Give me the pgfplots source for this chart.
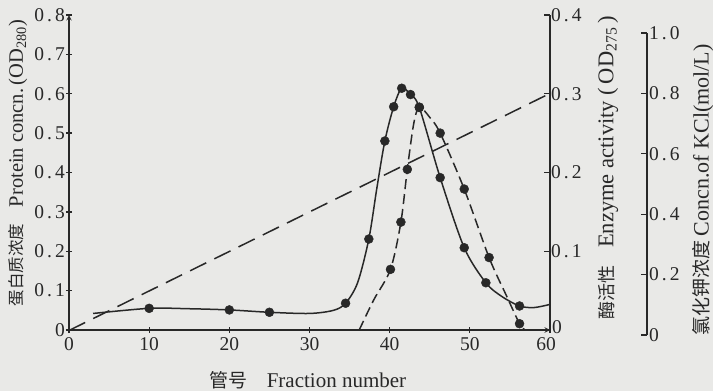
\documentclass[border=0pt]{standalone}
\usepackage{fontspec}
\setmainfont{Liberation Serif}
\newfontfamily\cjk{Noto Sans CJK SC}
\usepackage{pgfplots}
\pgfplotsset{compat=1.18}
\definecolor{ink}{RGB}{40,40,40}
\definecolor{bg}{RGB}{233,233,231}
\newcommand\tk[1]{0\kern3bp.\kern3bp#1}
\newcommand\lat[1]{\rmfamily\fontsize{#1}{#1}\selectfont}
\newcommand\cj[1]{\cjk\fontsize{#1}{#1}\selectfont}
\pgfplotsset{
  common/.style={scale only axis, clip=false,
    /pgf/number format/assume math mode=true,
    axis line style={ink, line width=1.4bp, -},
    tick align=inside, major tick length=6bp,
    tick style={ink, line width=1.3bp},
    ticklabel style={font=\rmfamily\fontsize{19.5bp}{21bp}\selectfont, text=ink},
  },
  solidline/.style={ink, line width=1.5bp, smooth, tension=0.5, no marks},
  dots/.style={only marks, mark=*, mark size=4.5bp, mark options={fill=ink, draw=ink}},
}
\begin{document}
\begin{tikzpicture}
\path[use as bounding box] (-69bp,-61bp) rectangle (644bp,330bp);
\fill[bg] (-69bp,-61bp) rectangle (644bp,330bp);
% main axis (protein)
\begin{axis}[common, at={(0,0)}, anchor=south west, width=481bp, height=315bp,
  xmin=0, xmax=60, ymin=0, ymax=0.8,
  axis x line=bottom, axis y line=left,
  xtick={0,10,20,30,40,50,60}, xticklabels={\rmfamily 0,\rmfamily 10,\rmfamily 20,\rmfamily 30,\rmfamily 40,\rmfamily 50,\rmfamily\hspace*{-8bp}60},
  ytick={0,0.1,0.2,0.3,0.4,0.5,0.6,0.7,0.8},
  yticklabels={\rmfamily 0,\rmfamily\tk1,\rmfamily\tk2,\rmfamily\tk3,\rmfamily\tk4,\rmfamily\tk5,\rmfamily\tk6,\rmfamily\tk7,\rmfamily\tk8},
  yticklabel style={inner xsep=1bp},
  xticklabel style={inner ysep=4bp},
]
\addplot[solidline] coordinates {(3,0.042) (10,0.055) (15,0.054) (20,0.051) (25,0.045) (30,0.042) (33,0.05) (34.5,0.068) (36,0.12) (37.4,0.231) (38.4,0.36) (39.4,0.48) (40.5,0.567) (41.5,0.614) (42.6,0.598) (43.7,0.565) (46.3,0.387) (49.3,0.209) (52.0,0.12) (54,0.085) (56.2,0.061) (58,0.057) (60,0.065)};
\addplot[dots] coordinates {(10,0.055) (20,0.051) (25,0.045) (34.5,0.068) (37.4,0.231) (39.4,0.48) (40.5,0.567) (41.5,0.614) (42.6,0.598) (43.7,0.565) (46.3,0.387) (49.3,0.209) (52.0,0.12) (56.2,0.061)};
\end{axis}
% enzyme axis
\begin{axis}[common, at={(0,0)}, anchor=south west, width=481bp, height=315bp,
  xmin=0, xmax=60, ymin=0, ymax=0.4,
  axis x line=none, axis y line*=right,
  ytick={0,0.1,0.2,0.3,0.4},
  yticklabels={\rmfamily\kern1bp\raisebox{6bp}{0},\rmfamily\tk1,\rmfamily\tk2,\rmfamily\tk3,\rmfamily\tk4},
  yticklabel style={inner xsep=1bp},
]
\addplot[ink, line width=1.5bp, smooth, tension=0.5, no marks, dash pattern=on 10bp off 5bp] coordinates {(36.2,0) (38,0.038) (40.1,0.077) (41.4,0.137) (42.2,0.204) (43.0,0.262) (43.7,0.283) (45,0.27) (46.3,0.25) (49.3,0.179) (52.4,0.092) (54.5,0.045) (56.2,0.008) (56.9,0)};
\addplot[dots] coordinates {(40.1,0.077) (41.4,0.137) (42.2,0.204) (43.7,0.283) (46.3,0.25) (49.3,0.179) (52.4,0.092) (56.2,0.008)};
\end{axis}
% KCl axis
\begin{axis}[common, at={(0,-5bp)}, anchor=south west, width=578bp, height=302bp,
  xmin=0, xmax=72.1, ymin=0, ymax=1,
  axis x line=none, axis y line*=right,
  ytick={0,0.2,0.4,0.6,0.8,1.0},
  yticklabels={\rmfamily 0,\rmfamily\tk2,\rmfamily\tk4,\rmfamily\tk6,\rmfamily\tk8,\rmfamily 1\kern3bp.\kern3bp0},
  yticklabel style={inner xsep=2bp},
]
\addplot[ink, line width=1.5bp, no marks, dash pattern=on 18bp off 9bp] coordinates {(0,0.015) (60,0.8)};
\end{axis}
\node[rotate=90, text=ink] at (-51bp,167bp) {\cj{16.5bp}蛋白质浓度\quad\lat{20.5bp}Protein concn.\,(OD\textsubscript{280})};
\node[text=ink] at (239bp,-50bp) {\cj{19bp}管号\quad\lat{21bp}Fraction number};
\node[rotate=90, text=ink] at (539bp,162bp) {\cj{18bp}酶活性\quad\lat{22.5bp}Enzyme activity\ (\,OD\textsubscript{275}\,)};
\node[rotate=90, text=ink] at (634bp,140bp) {\cj{19bp}氯化钾浓度\ \lat{22bp}Concn.of KCl(mol/L)};
\end{tikzpicture}
\end{document}
